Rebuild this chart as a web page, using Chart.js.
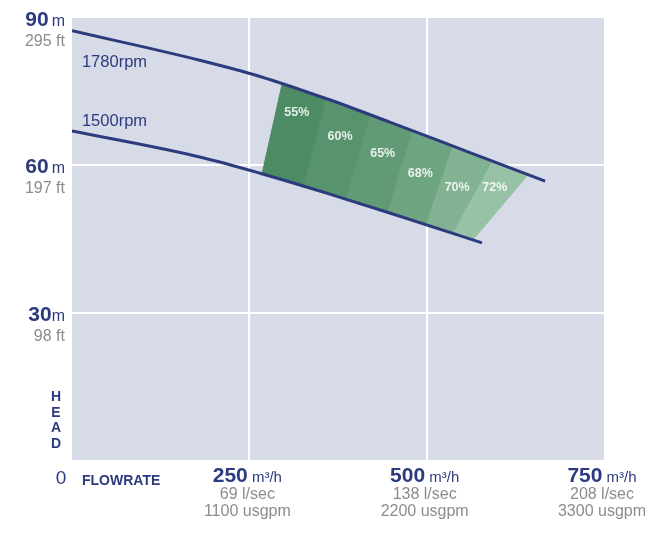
<!DOCTYPE html>
<html>
<head>
<meta charset="utf-8">
<script src="https://cdn.jsdelivr.net/npm/chart.js@4"></script>
<style>
    html, body { margin: 0; background: #fff; }
    canvas { display: block; }
</style>
</head>
<body>
<canvas id="pumpChart" width="649" height="534"></canvas>
<script>
// ── DATA ──
const rpm1780Flow = [0, 180, 265, 360, 448, 561, 667];
const rpm1780Head = [87.4, 81.4, 78.1, 73.5, 68.8, 62.6, 56.8];
const rpm1500Flow = [0, 180, 265, 360, 448, 578];
const rpm1500Head = [67.0, 61.7, 58.4, 54.3, 50.3, 44.2];

// efficiency band corners, left to right (top = on 1780rpm, bottom = on 1500rpm)
const bandTopFlow    = [296, 357, 420, 479, 536, 592, 643];
const bandTopHead    = [76.4, 73.4, 70.2, 67.1, 64.0, 60.9, 58.1];
const bandBottomFlow = [268, 326, 385, 444, 498, 536, 565];
const bandBottomHead = [58.3, 55.7, 53.1, 50.5, 48.0, 46.2, 44.8];
const bandLabels     = ['55%', '60%', '65%', '68%', '70%', '72%'];
const bandLabelFlow  = [317, 378, 438, 491, 543, 596];
const bandLabelHead  = [70.7, 65.8, 62.3, 58.4, 55.4, 55.4];
const bandColors     = ['#4d8b64', '#57936c', '#619a75', '#6ea47f', '#81b291', '#98c2a6'];

const rpmLabels    = ['1780rpm', '1500rpm'];
const rpmLabelFlow = [14, 14];
const rpmLabelHead = [81.0, 69.0];

const yTickValues = [90, 60, 30];
const yTickUnits  = [' m', ' m', 'm'];
const yTickFeet   = ['295 ft', '197 ft', '98 ft'];
const xTickValues = [250, 500, 750];
const xTickUnits  = [' m³/h', ' m³/h', ' m³/h'];
const xTickLps    = ['69 l/sec', '138 l/sec', '208 l/sec'];
const xTickUsgpm  = ['1100 usgpm', '2200 usgpm', '3300 usgpm'];

// ── STYLE ──
const NAVY = '#2c3a7e';
const GREY = '#8c8c8c';
const PLOT_BG = '#d6dbe7';
const SANS = '"Liberation Sans", Arial, sans-serif';

const toPoints = (xs, ys) => xs.map((x, i) => ({ x, y: ys[i] }));

// ── PLUGIN: plot background + all the text ──
const pumpLabels = {
    id: 'pumpLabels',
    beforeDraw(chart) {
        const { ctx, chartArea: a } = chart;
        ctx.save();
        ctx.fillStyle = PLOT_BG;
        ctx.fillRect(a.left, a.top, a.right - a.left, a.bottom - a.top);
        ctx.restore();
    },
    afterDraw(chart) {
        const { ctx, chartArea: a, scales: { x, y } } = chart;
        ctx.save();
        ctx.textBaseline = 'alphabetic';

        // head ticks
        yTickValues.forEach((v, i) => {
            const py = y.getPixelForValue(v);
            const rx = a.left - 7;
            ctx.textAlign = 'right';
            ctx.fillStyle = NAVY;
            ctx.font = '16px ' + SANS;
            const uw = ctx.measureText(yTickUnits[i]).width - (yTickUnits[i][0] === ' ' ? 1.5 : 0);
            ctx.fillText(yTickUnits[i].trim(), rx, py + 8);
            ctx.font = 'bold 21px ' + SANS;
            ctx.fillText(String(v), rx - uw, py + 8);
            ctx.font = '16px ' + SANS;
            ctx.fillStyle = GREY;
            ctx.fillText(yTickFeet[i], rx, py + 28);
        });

        // flow ticks
        xTickValues.forEach((v, i) => {
            const px = x.getPixelForValue(v) - 2;
            ctx.font = 'bold 21px ' + SANS;
            const nw = ctx.measureText(String(v)).width;
            ctx.font = '15px ' + SANS;
            const uw = ctx.measureText(xTickUnits[i]).width;
            const left = px - (nw + uw) / 2;
            ctx.textAlign = 'left';
            ctx.fillStyle = NAVY;
            ctx.font = 'bold 21px ' + SANS;
            ctx.fillText(String(v), left, a.bottom + 22);
            ctx.font = '15px ' + SANS;
            ctx.fillText(xTickUnits[i], left + nw, a.bottom + 22);
            ctx.textAlign = 'center';
            ctx.fillStyle = GREY;
            ctx.font = '16px ' + SANS;
            ctx.fillText(xTickLps[i], px, a.bottom + 38.5);
            ctx.fillText(xTickUsgpm[i], px, a.bottom + 55.5);
        });

        // origin, axis names
        ctx.fillStyle = NAVY;
        ctx.textAlign = 'center';
        ctx.font = '19px ' + SANS;
        ctx.fillText('0', a.left - 11, a.bottom + 24);
        ctx.textAlign = 'left';
        ctx.font = 'bold 14px ' + SANS;
        ctx.fillText('FLOWRATE', a.left + 10, a.bottom + 25);
        ctx.textAlign = 'center';
        ctx.font = 'bold 14px ' + SANS;
        ['H', 'E', 'A', 'D'].forEach((ch, i) => {
            ctx.fillText(ch, a.left - 16, a.bottom - 59 + i * 15.7);
        });

        // curve names
        ctx.textAlign = 'left';
        ctx.textBaseline = 'middle';
        ctx.font = '16.5px ' + SANS;
        ctx.fillStyle = NAVY;
        rpmLabels.forEach((t, i) => {
            ctx.fillText(t, x.getPixelForValue(rpmLabelFlow[i]), y.getPixelForValue(rpmLabelHead[i]));
        });

        // efficiency labels
        ctx.textAlign = 'center';
        ctx.font = 'bold 12.5px ' + SANS;
        ctx.fillStyle = 'rgba(255,255,255,0.85)';
        bandLabels.forEach((t, i) => {
            ctx.fillText(t, x.getPixelForValue(bandLabelFlow[i]), y.getPixelForValue(bandLabelHead[i]));
        });
        ctx.restore();
    }
};

// ── DATASETS ──
const curveStyle = {
    borderColor: NAVY,
    borderWidth: 3,
    pointRadius: 0,
    fill: false,
    cubicInterpolationMode: 'monotone'
};

const bandSets = bandColors.map((c, i) => ({
    label: bandLabels[i],
    data: [
        { x: bandTopFlow[i], y: bandTopHead[i] },
        { x: bandTopFlow[i + 1], y: bandTopHead[i + 1] },
        { x: bandBottomFlow[i + 1], y: bandBottomHead[i + 1] },
        { x: bandBottomFlow[i], y: bandBottomHead[i] },
        { x: bandTopFlow[i], y: bandTopHead[i] }
    ],
    fill: 'shape',
    backgroundColor: c,
    borderColor: c,
    borderWidth: 1,
    pointRadius: 0,
    tension: 0
}));

const edgeColor = (ctx, inner) =>
    inner.includes(ctx.tick.value) ? '#ffffff' : 'rgba(0,0,0,0)';

// ── CHART ──
const chart = new Chart(document.getElementById('pumpChart').getContext('2d'), {
    type: 'line',
    data: {
        datasets: [
            { label: '1780rpm', data: toPoints(rpm1780Flow, rpm1780Head), ...curveStyle },
            { label: '1500rpm', data: toPoints(rpm1500Flow, rpm1500Head), ...curveStyle },
            ...bandSets
        ]
    },
    options: {
        responsive: false,
        animation: false,
        events: [],
        layout: { padding: { left: 72, right: 45, top: 18, bottom: 74 } },
        scales: {
            x: {
                type: 'linear',
                min: 0, max: 750,
                afterBuildTicks: s => { s.ticks = [0, 250, 500, 750].map(value => ({ value })); },
                ticks: { display: false },
                border: { display: false },
                grid: { color: ctx => edgeColor(ctx, [250, 500]), lineWidth: 2, drawTicks: false }
            },
            y: {
                type: 'linear',
                min: 0, max: 90,
                afterBuildTicks: s => { s.ticks = [0, 30, 60, 90].map(value => ({ value })); },
                ticks: { display: false },
                border: { display: false },
                grid: { color: ctx => edgeColor(ctx, [30, 60]), lineWidth: 2, drawTicks: false }
            }
        },
        plugins: {
            legend: { display: false },
            tooltip: { enabled: false }
        }
    },
    plugins: [pumpLabels]
});
</script>
</body>
</html>
